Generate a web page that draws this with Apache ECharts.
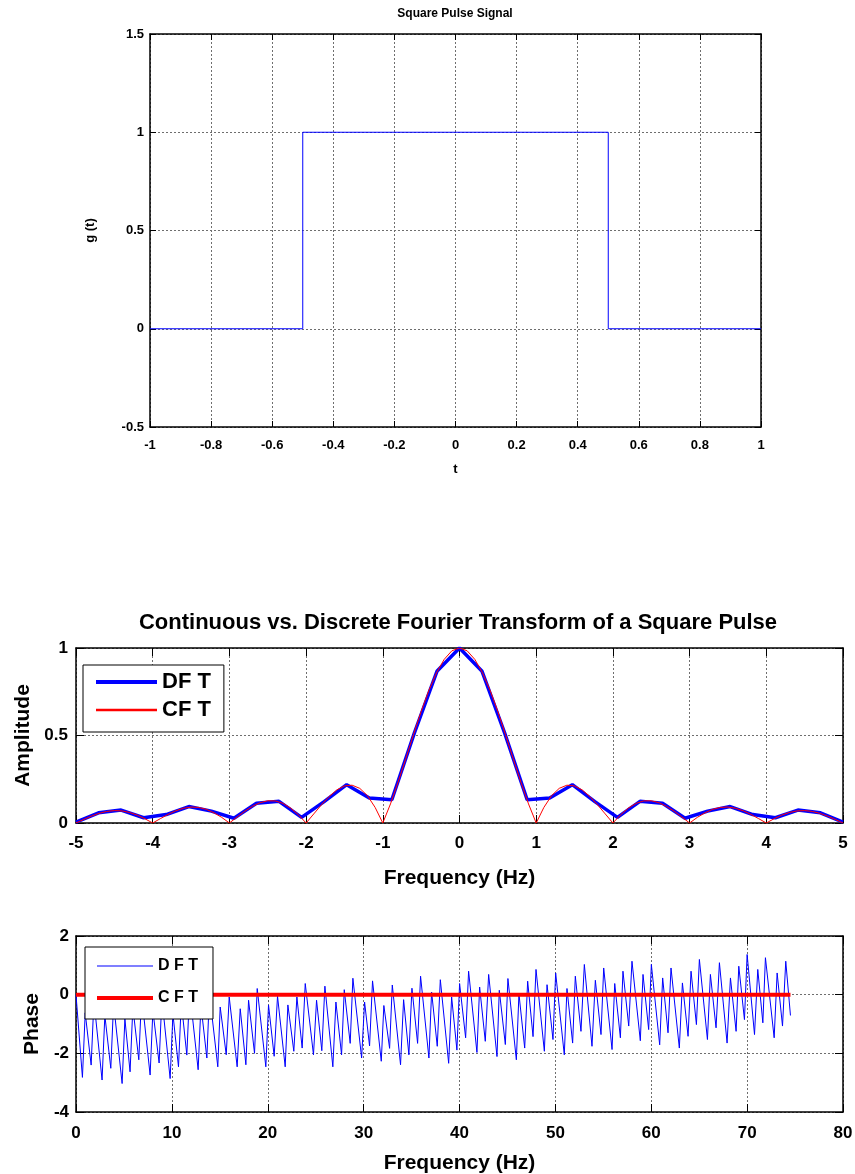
<!DOCTYPE html>
<html>
<head>
<meta charset="utf-8">
<title>Square pulse and its Fourier transform</title>
<script src="https://cdn.jsdelivr.net/npm/echarts@6.0.0/dist/echarts.min.js"></script>
<style>
  html, body { margin: 0; padding: 0; background: #fff; }
  #chart { width: 855px; height: 1174px; }
</style>
</head>
<body>
<div id="chart"></div>
<script>
// square pulse g(t)
var pulseT = [-1, -0.5, -0.5, 0.5, 0.5, 1];
var pulseG = [0, 0, 1, 1, 0, 0];

// DFT magnitude (samples every ~0.294 Hz)
var dftFreq = [-5.000, -4.706, -4.412, -4.118, -3.824, -3.529, -3.235, -2.941, -2.647, -2.353, -2.059, -1.765,
  -1.471, -1.176, -0.882, -0.588, -0.294, 0, 0.294, 0.588, 0.882, 1.176, 1.471, 1.765, 2.059, 2.353, 2.647,
  2.941, 3.235, 3.529, 3.824, 4.118, 4.412, 4.706, 5.000];
var dftAmp = [0.005, 0.058, 0.074, 0.030, 0.048, 0.094, 0.068, 0.027, 0.113, 0.124, 0.032, 0.122,
  0.219, 0.143, 0.133, 0.515, 0.867, 1.000, 0.867, 0.515, 0.133, 0.143, 0.219, 0.122, 0.032, 0.124, 0.113,
  0.027, 0.068, 0.094, 0.048, 0.030, 0.074, 0.058, 0.005];

// CFT magnitude
var cftFreq = [-5, -4.9, -4.8, -4.7, -4.6, -4.5, -4.4, -4.3, -4.2, -4.1, -4, -3.9, -3.8, -3.7, -3.6, -3.5, -3.4,
  -3.3, -3.2, -3.1, -3, -2.9, -2.8, -2.7, -2.6, -2.5, -2.4, -2.3, -2.2, -2.1, -2, -1.9, -1.8, -1.7, -1.6, -1.5,
  -1.4, -1.3, -1.2, -1.1, -1, -0.9, -0.8, -0.7, -0.6, -0.5, -0.4, -0.3, -0.2, -0.1, 0, 0.1, 0.2, 0.3, 0.4, 0.5,
  0.6, 0.7, 0.8, 0.9, 1, 1.1, 1.2, 1.3, 1.4, 1.5, 1.6, 1.7, 1.8, 1.9, 2, 2.1, 2.2, 2.3, 2.4, 2.5, 2.6, 2.7, 2.8,
  2.9, 3, 3.1, 3.2, 3.3, 3.4, 3.5, 3.6, 3.7, 3.8, 3.9, 4, 4.1, 4.2, 4.3, 4.4, 4.5, 4.6, 4.7, 4.8, 4.9, 5];
var cftAmp = [0.000, 0.020, 0.039, 0.055, 0.066, 0.071, 0.069, 0.060, 0.045, 0.024, 0.000, 0.025, 0.049, 0.070,
  0.084, 0.091, 0.089, 0.078, 0.058, 0.032, 0.000, 0.034, 0.067, 0.095, 0.116, 0.127, 0.126, 0.112, 0.085, 0.047,
  0.000, 0.052, 0.104, 0.151, 0.189, 0.212, 0.216, 0.198, 0.156, 0.089, 0.000, 0.109, 0.234, 0.368, 0.505, 0.637,
  0.757, 0.858, 0.935, 0.984, 1.000, 0.984, 0.935, 0.858, 0.757, 0.637, 0.505, 0.368, 0.234, 0.109, 0.000, 0.089,
  0.156, 0.198, 0.216, 0.212, 0.189, 0.151, 0.104, 0.052, 0.000, 0.047, 0.085, 0.112, 0.126, 0.127, 0.116, 0.095,
  0.067, 0.034, 0.000, 0.032, 0.058, 0.078, 0.089, 0.091, 0.084, 0.070, 0.049, 0.025, 0.000, 0.024, 0.045, 0.060,
  0.069, 0.071, 0.066, 0.055, 0.039, 0.020, 0.000];

// DFT phase, corners of the saw-tooth
var phaseFreq = [0.00, 0.67, 0.96, 1.58, 1.87, 2.72, 3.01, 3.63, 3.92, 4.81, 5.10, 5.64, 5.93, 6.55, 6.84, 7.73,
  8.02, 8.67, 8.96, 9.82, 10.11, 10.69, 10.98, 11.56, 11.85, 12.74, 13.03, 13.65, 13.92, 14.79, 15.04, 15.67,
  15.98, 16.81, 17.13, 17.72, 18.00, 18.62, 18.90, 19.80, 20.08, 20.67, 21.02, 21.82, 22.10, 22.72, 23.04, 23.59,
  23.91, 24.77, 25.09, 25.64, 25.96, 26.79, 27.11, 27.70, 27.98, 28.60, 28.88, 29.79, 30.10, 30.62, 30.93, 31.84,
  32.11, 32.71, 32.99, 33.85, 34.17, 34.72, 35.04, 35.63, 35.94, 36.81, 37.09, 37.68, 38.00, 38.87, 39.18, 39.73,
  40.01, 40.64, 40.95, 41.82, 42.10, 42.69, 43.04, 43.91, 44.15, 44.78, 45.05, 45.93, 46.20, 46.80, 47.11, 47.67,
  47.98, 48.85, 49.13, 49.75, 50.03, 50.93, 51.21, 51.80, 52.08, 52.67, 53.02, 53.82, 54.17, 54.76, 55.04, 55.91,
  56.19, 56.78, 57.05, 57.65, 57.99, 58.86, 59.14, 59.73, 60.01, 60.88, 61.19, 61.75, 62.06, 62.93, 63.25, 63.84,
  64.15, 64.71, 65.02, 65.86, 66.17, 66.76, 67.11, 67.91, 68.26, 68.85, 69.13, 69.72, 70.00, 70.77, 71.11, 71.64,
  71.91, 72.82, 73.13, 73.69, 74.03, 74.52];
var phaseDft = [0.00, -2.82, -0.62, -2.40, -0.20, -2.91, -0.71, -2.51, -0.31, -3.03, -0.83, -2.63, -0.43, -2.22,
  -0.02, -2.74, -0.54, -2.33, -0.13, -2.86, -0.66, -2.46, -0.26, -2.06, 0.14, -2.56, -0.36, -2.16, 0.04, -2.46,
  -0.42, -2.05, -0.08, -2.46, -0.48, -2.39, -0.19, -2.00, 0.21, -2.46, -0.35, -2.10, -0.05, -2.46, -0.35, -1.93,
  -0.08, -1.82, 0.38, -2.05, -0.19, -1.91, 0.29, -2.46, -0.25, -2.05, 0.17, -1.66, 0.56, -2.16, -0.25, -1.75,
  0.47, -2.27, -0.37, -1.83, 0.33, -2.39, -0.17, -2.05, 0.22, -1.66, 0.63, -2.16, 0.09, -1.76, 0.51, -2.34,
  -0.08, -1.89, 0.38, -1.47, 0.80, -1.97, 0.26, -1.59, 0.69, -2.11, 0.15, -1.70, 0.55, -2.22, 0.03, -1.82,
  0.46, -1.43, 0.86, -1.93, 0.34, -1.53, 0.74, -2.05, 0.21, -1.65, 0.63, -1.25, 1.03, -1.76, 0.49, -1.36,
  0.91, -1.87, 0.38, -1.47, 0.80, -1.07, 1.14, -1.57, 0.69, -1.19, 1.03, -1.71, 0.57, -1.30, 0.91, -1.82,
  0.40, -1.42, 0.80, -1.02, 1.20, -1.53, 0.69, -1.13, 1.09, -1.65, 0.57, -1.25, 0.97, -0.85, 1.37, -1.36,
  0.86, -0.96, 1.26, -1.47, 0.74, -1.07, 1.14, -0.71];

// CFT phase
var phaseCftFreq = [0, 74.52];
var phaseCft = [0, 0];

function pairs(xs, ys) {
  var out = [];
  for (var i = 0; i < xs.length; i++) out.push([xs[i], ys[i]]);
  return out;
}

var font = '"Liberation Sans", Arial, Helvetica, sans-serif';
var gridStyle = { color: '#6e6e6e', type: [2, 2], width: 1 };

function mainAxis(gridIndex, pos, min, max, interval, fontSize, tickLen, margin) {
  return {
    type: 'value', gridIndex: gridIndex, position: pos,
    min: min, max: max, interval: interval,
    axisLine: { show: true, onZero: false, lineStyle: { color: '#000', width: 1.5 } },
    axisTick: { show: true, inside: true, length: tickLen, lineStyle: { color: '#000', width: 1 } },
    axisLabel: {
      show: true, color: '#000', fontWeight: 'bold', fontSize: fontSize, fontFamily: font,
      margin: margin, showMinLabel: true, showMaxLabel: true
    },
    splitLine: { show: true, lineStyle: gridStyle },
    nameLocation: 'middle', nameMoveOverlap: false,
    nameTextStyle: { color: '#000', fontWeight: 'bold', fontFamily: font }
  };
}

// second axis on the opposite side, only the box edge and ticks
function sideAxis(gridIndex, pos, min, max, interval, tickLen) {
  return {
    type: 'value', gridIndex: gridIndex, position: pos,
    min: min, max: max, interval: interval,
    axisLine: { show: true, onZero: false, lineStyle: { color: '#000', width: 1.5 } },
    axisTick: { show: true, inside: true, length: tickLen, lineStyle: { color: '#000', width: 1 } },
    axisLabel: { show: false },
    splitLine: { show: false }
  };
}

var xTop = mainAxis(0, 'bottom', -1, 1, 0.2, 13, 6, 12);
xTop.name = 't'; xTop.nameGap = 36; xTop.nameTextStyle.fontSize = 13;
var yTop = mainAxis(0, 'left', -0.5, 1.5, 0.5, 13, 6, 6);
yTop.name = 'g (t)'; yTop.nameGap = 53; yTop.nameRotate = 90; yTop.nameTextStyle.fontSize = 13;

var xAmp = mainAxis(1, 'bottom', -5, 5, 1, 17, 8, 12);
xAmp.name = 'Frequency (Hz)'; xAmp.nameGap = 45; xAmp.nameTextStyle.fontSize = 21;
var yAmp = mainAxis(1, 'left', 0, 1, 0.5, 17, 8, 8);
yAmp.name = 'Amplitude'; yAmp.nameGap = 42; yAmp.nameRotate = 90; yAmp.nameTextStyle.fontSize = 21;

var xPh = mainAxis(2, 'bottom', 0, 80, 10, 17, 8, 13);
xPh.name = 'Frequency (Hz)'; xPh.nameGap = 41; xPh.nameTextStyle.fontSize = 21;
var yPh = mainAxis(2, 'left', -4, 2, 2, 17, 8, 7);
yPh.name = 'Phase'; yPh.nameGap = 33; yPh.nameRotate = 90; yPh.nameTextStyle.fontSize = 21;

var legendBase = {
  orient: 'vertical', selectedMode: false,
  backgroundColor: '#fff', borderColor: '#000', borderWidth: 1, borderRadius: 0,
  textStyle: { color: '#000', fontWeight: 'bold', fontFamily: font }
};

var chart = echarts.init(document.getElementById('chart'), null, { renderer: 'canvas' });
chart.setOption({
  animation: false,
  backgroundColor: '#fff',
  textStyle: { fontFamily: font },
  title: [
    {
      text: 'Square Pulse Signal', left: 455, top: 8, textAlign: 'center', padding: 0,
      textStyle: { fontSize: 12, fontWeight: 'bold', color: '#000', fontFamily: font }
    },
    {
      text: 'Continuous vs. Discrete Fourier Transform of a Square Pulse', left: 458, top: 612,
      textAlign: 'center', padding: 0,
      textStyle: { fontSize: 22, fontWeight: 'bold', color: '#000', fontFamily: font }
    }
  ],
  grid: [
    { left: 150, top: 34, width: 611, height: 393, outerBoundsMode: 'none' },
    { left: 76, top: 648, width: 767, height: 175, outerBoundsMode: 'none' },
    { left: 76, top: 936, width: 767, height: 176, outerBoundsMode: 'none' }
  ],
  xAxis: [xTop, xAmp, xPh,
    sideAxis(0, 'top', -1, 1, 0.2, 6), sideAxis(1, 'top', -5, 5, 1, 8), sideAxis(2, 'top', 0, 80, 10, 8)],
  yAxis: [yTop, yAmp, yPh,
    sideAxis(0, 'right', -0.5, 1.5, 0.5, 6), sideAxis(1, 'right', 0, 1, 0.5, 8), sideAxis(2, 'right', -4, 2, 2, 8)],
  legend: [
    Object.assign({}, legendBase, {
      left: 83, top: 665, padding: [6, 13, 11, 13], itemWidth: 61, itemHeight: 14, itemGap: 6,
      textStyle: Object.assign({}, legendBase.textStyle, { fontSize: 22, lineHeight: 22 }),
      data: [
        { name: 'DF T', icon: 'path://M0,0H61V4H0Z', itemStyle: { color: '#0000ff', borderWidth: 0 } },
        { name: 'CF T', icon: 'path://M0,0H61V2.5H0Z', itemStyle: { color: '#ff0000', borderWidth: 0 } }
      ]
    }),
    Object.assign({}, legendBase, {
      left: 85, top: 947, padding: [11, 15, 13, 12], itemWidth: 56, itemHeight: 14, itemGap: 16,
      textStyle: Object.assign({}, legendBase.textStyle, { fontSize: 16, lineHeight: 16 }),
      data: [
        { name: 'D F T', icon: 'path://M0,0H56V1H0Z', itemStyle: { color: '#0000ff', borderWidth: 0 } },
        { name: 'C F T', icon: 'path://M0,0H56V4H0Z', itemStyle: { color: '#ff0000', borderWidth: 0 } }
      ]
    })
  ],
  series: [
    {
      type: 'line', xAxisIndex: 0, yAxisIndex: 0, data: pairs(pulseT, pulseG),
      symbol: 'none', lineStyle: { color: '#0000ff', width: 1 }, itemStyle: { color: '#0000ff' }
    },
    {
      name: 'DF T', type: 'line', xAxisIndex: 1, yAxisIndex: 1, data: pairs(dftFreq, dftAmp),
      symbol: 'none', lineStyle: { color: '#0000ff', width: 3.5 }, itemStyle: { color: '#0000ff' }
    },
    {
      name: 'CF T', type: 'line', xAxisIndex: 1, yAxisIndex: 1, data: pairs(cftFreq, cftAmp),
      symbol: 'none', lineStyle: { color: '#ff0000', width: 1 }, itemStyle: { color: '#ff0000' }
    },
    {
      name: 'D F T', type: 'line', xAxisIndex: 2, yAxisIndex: 2, data: pairs(phaseFreq, phaseDft),
      symbol: 'none', lineStyle: { color: '#0000ff', width: 1 }, itemStyle: { color: '#0000ff' }
    },
    {
      name: 'C F T', type: 'line', xAxisIndex: 2, yAxisIndex: 2, data: pairs(phaseCftFreq, phaseCft),
      symbol: 'none', lineStyle: { color: '#ff0000', width: 4 }, itemStyle: { color: '#ff0000' }
    }
  ]
});
</script>
</body>
</html>
